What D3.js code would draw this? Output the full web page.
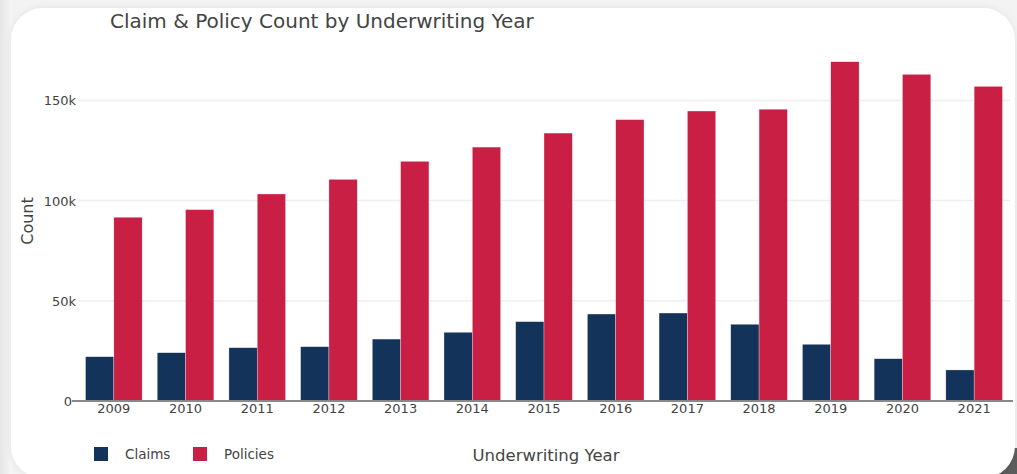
<!DOCTYPE html>
<html>
<head>
<meta charset="utf-8">
<script src="https://cdn.jsdelivr.net/npm/d3@7"></script>
<style>
  html, body { margin: 0; padding: 0; background: #f2f2f2; }
  svg { display: block; }
  text { font-family: "DejaVu Sans", Verdana, sans-serif; }
</style>
</head>
<body>
<svg id="chart" width="1017" height="474"></svg>
<script>
const years = ["2009","2010","2011","2012","2013","2014","2015","2016","2017","2018","2019","2020","2021"];
const claims = [22100, 24100, 26600, 27100, 30900, 34300, 39600, 43400, 43900, 38300, 28300, 21100, 15500];
const policies = [91700, 95500, 103300, 110600, 119600, 126700, 133700, 140400, 144700, 145600, 169300, 163000, 157000];
const seriesNames = ["Claims", "Policies"];
const seriesColors = ["#14335a", "#c91f45"];
const yTicks = [0, 50000, 100000, 150000];
const yTickLabels = ["0", "50k", "100k", "150k"];

const svg = d3.select("#chart");
const W = 1017, H = 474;

// background + card
const defs = svg.append("defs");
const lg = defs.append("linearGradient").attr("id", "leftShade").attr("x1", 0).attr("x2", 1).attr("y1", 0).attr("y2", 0);
lg.append("stop").attr("offset", "0%").attr("stop-color", "#e6e6e6");
lg.append("stop").attr("offset", "100%").attr("stop-color", "#f6f6f6");
svg.append("rect").attr("x", 0).attr("y", 0).attr("width", W).attr("height", H).attr("fill", "#f3f3f3");
svg.append("rect").attr("x", 0).attr("y", 0).attr("width", 12).attr("height", H).attr("fill", "url(#leftShade)");
svg.append("rect").attr("x", 985).attr("y", 448).attr("width", 32).attr("height", 26).attr("fill", "#5c5c5c");
const sh = defs.append("filter").attr("id", "shadow").attr("x", "-5%").attr("y", "-5%").attr("width", "110%").attr("height", "110%");
sh.append("feDropShadow").attr("dx", 0).attr("dy", 0).attr("stdDeviation", 3).attr("flood-color", "#000").attr("flood-opacity", 0.08);
svg.append("rect").attr("x", 11).attr("y", 8).attr("width", 1004).attr("height", 470)
  .attr("rx", 32).attr("ry", 32).attr("fill", "#ffffff").attr("filter", "url(#shadow)");

// scales
const x0 = d3.scaleBand().domain(years).range([78, 1010]).paddingInner(0.21).paddingOuter(0.105);
const x1 = d3.scaleBand().domain(seriesNames).range([0, x0.bandwidth()]).padding(0);
const y = d3.scaleLinear().domain([0, 150000]).range([401, 100.4]);

// gridlines
svg.append("g").selectAll("line").data(yTicks.slice(1)).join("line")
  .attr("x1", 78).attr("x2", 1010)
  .attr("y1", d => y(d)).attr("y2", d => y(d))
  .attr("stroke", "#eeeeee").attr("stroke-width", 1.5);

// bars
const data = years.map((yr, i) => ({ year: yr, vals: [claims[i], policies[i]] }));
const groups = svg.append("g").selectAll("g").data(data).join("g")
  .attr("transform", d => `translate(${x0(d.year)},0)`);
groups.selectAll("rect").data(d => d.vals.map((v, j) => ({ name: seriesNames[j], v, j }))).join("rect")
  .attr("x", d => x1(d.name))
  .attr("width", x1.bandwidth())
  .attr("y", d => y(d.v))
  .attr("height", d => y(0) - y(d.v))
  .attr("fill", d => seriesColors[d.j])
  .attr("stroke", "rgba(255,255,255,0.6)").attr("stroke-width", 0.5);

// zero line
svg.append("line").attr("x1", 72).attr("x2", 1013).attr("y1", y(0)).attr("y2", y(0))
  .attr("stroke", "#888888").attr("stroke-width", 2);

// y axis tick labels
const yAxis = d3.axisLeft(y).tickValues(yTicks).tickFormat((d, i) => yTickLabels[i]).tickSize(0).tickPadding(0);
const ya = svg.append("g").attr("transform", "translate(76,0)").call(yAxis);
ya.select(".domain").remove();
ya.selectAll("text").attr("font-family", "DejaVu Sans, Verdana, sans-serif").attr("font-size", 13).attr("fill", "#444444").attr("dy", "0.35em")
  .attr("dx", (d) => d === 0 ? -4 : 0);

// x axis tick labels
const xAxis = d3.axisBottom(x0).tickSize(0).tickPadding(0);
const xa = svg.append("g").attr("transform", "translate(0,404)").call(xAxis);
xa.select(".domain").remove();
xa.selectAll("text").attr("font-family", "DejaVu Sans, Verdana, sans-serif").attr("font-size", 13).attr("fill", "#444444").attr("dy", "0.71em");

// titles
svg.append("text").attr("x", 110).attr("y", 28).attr("font-size", 20).attr("fill", "#444444")
  .text("Claim & Policy Count by Underwriting Year");
svg.append("text").attr("transform", "translate(33,221) rotate(-90)").attr("text-anchor", "middle")
  .attr("font-size", 16).attr("fill", "#444444").text("Count");
svg.append("text").attr("x", 546).attr("y", 461).attr("text-anchor", "middle")
  .attr("font-size", 16.5).attr("fill", "#444444").text("Underwriting Year");

// legend
const legendX = [94, 193];
const lgd = svg.append("g").selectAll("g").data(seriesNames).join("g")
  .attr("transform", (d, i) => `translate(${legendX[i]},447)`);
lgd.append("rect").attr("width", 14).attr("height", 14).attr("fill", (d, i) => seriesColors[i]);
lgd.append("text").attr("x", 31).attr("y", 7).attr("dy", "0.35em").attr("font-size", 13.5).attr("fill", "#444444").text(d => d);
</script>
</body>
</html>
